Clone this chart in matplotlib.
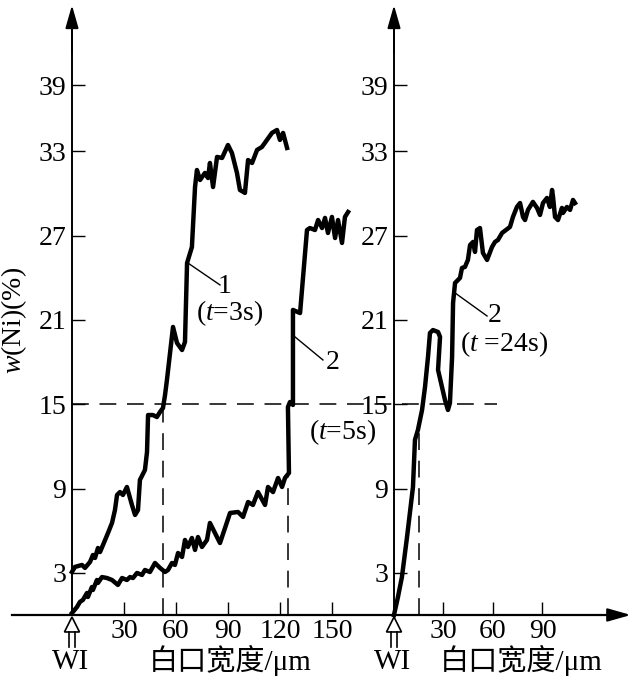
import numpy as np
import matplotlib
matplotlib.use("Agg")
import matplotlib.pyplot as plt
from matplotlib.transforms import Affine2D, ScaledTranslation
from matplotlib.patches import Polygon
from matplotlib.lines import Line2D

plt.rcParams['font.family'] = ['Liberation Serif', 'Noto Sans CJK SC', 'DejaVu Sans']
plt.rcParams['mathtext.fontset'] = 'custom'
plt.rcParams['mathtext.rm'] = 'Liberation Serif'
plt.rcParams['mathtext.it'] = 'Liberation Serif:italic'

# curve 1 (t=3s), left panel: width um, w(Ni) %
x1 = [0, 1.7, 5.8, 7.5, 10.4, 12.1, 13.3, 15.0, 16.2, 17.9, 20.8, 23.1, 24.8, 26.0,
      27.7, 29.4, 31.7, 34.6, 36.4, 38.1, 39.2, 42.1, 43.3, 43.9, 46.7, 49.0, 50.8,
      52.5, 53.7, 54.8, 58.3, 60.6, 63.5, 65.2, 66.4, 69.2, 71.0, 72.1, 73.9, 76.7,
      78.5, 79.6, 81.4, 83.7, 86.6, 90.0, 92.3, 95.2, 96.9, 99.8, 101.6, 103.9,
      106.8, 109.6, 112.5, 115.4, 118.3, 120.0, 121.8, 124.1]
y1 = [3.06, 3.42, 3.56, 3.35, 3.77, 4.27, 4.06, 4.77, 4.48, 4.98, 5.84, 6.55, 7.47,
      8.54, 8.75, 8.54, 9.11, 7.83, 7.12, 7.47, 9.61, 10.32, 11.6, 14.23, 14.23,
      14.09, 14.45, 14.73, 15.66, 16.73, 20.5, 19.36, 18.86, 19.43, 25.05, 26.19,
      30.46, 31.67, 30.96, 31.46, 31.1, 32.17, 30.46, 32.6, 32.53, 33.45, 32.88,
      31.46, 30.25, 30.04, 32.38, 32.17, 33.1, 33.31, 33.81, 34.31, 34.52, 33.81,
      34.31, 33.24]

# curve 2 (t=5s), left panel
x2 = [0, 2.9, 4.6, 6.3, 8.7, 9.2, 11.5, 12.1, 14.4, 15.0, 17.3, 20.2, 23.1, 26.5,
      28.9, 31.7, 33.5, 35.2, 37.5, 40.4, 42.1, 45.0, 47.9, 50.8, 53.7, 55.4, 57.7,
      59.4, 61.2, 63.5, 65.2, 66.9, 69.2, 71.0, 72.7, 75.0, 77.9, 79.6, 85.4, 91.2,
      95.8, 98.7, 101.6, 104.4, 107.3, 111.4, 113.1, 116.0, 118.9, 121.2, 122.9,
      125.2, 124.6, 125.8, 127.5, 127.5, 131.6, 135.6, 137.3, 140.2, 142.0, 144.3,
      146.0, 147.7, 150.0, 151.8, 153.5, 155.8, 157.5, 159.3]
y2 = [0.14, 0.57, 0.93, 1.07, 1.57, 1.28, 1.99, 1.78, 2.49, 2.28, 2.7, 2.63, 2.49,
      2.14, 2.63, 2.49, 2.7, 2.63, 2.99, 2.85, 3.2, 3.06, 3.7, 3.35, 3.06, 3.2, 3.7,
      3.56, 4.41, 4.13, 5.34, 4.84, 5.48, 4.63, 5.55, 4.84, 5.34, 6.55, 5.12, 7.26,
      7.33, 6.98, 8.04, 7.83, 8.75, 7.83, 9.11, 8.75, 9.75, 9.11, 9.75, 10.11, 14.8,
      15.16, 14.95, 21.71, 21.49, 27.4, 27.54, 27.4, 28.11, 27.54, 28.26, 27.19,
      28.33, 26.83, 28.11, 26.48, 28.33, 28.68]

# curve 2 (t=24s), right panel
x3 = [0, 2.4, 4.8, 7.9, 11.5, 12.7, 14.5, 17.0, 18.8, 20.6, 21.8, 23.6, 26.7, 27.9,
      26.7, 30.9, 32.7, 33.9, 35.2, 35.8, 37.0, 40.0, 41.2, 43.0, 44.8, 46.1, 47.9,
      49.1, 50.3, 52.1, 53.9, 56.4, 59.4, 61.2, 63.0, 65.5, 70.3, 72.1, 74.5, 76.4,
      78.2, 79.4, 81.2, 84.2, 86.7, 88.5, 90.3, 92.7, 94.5, 95.8, 96.4, 97.6, 99.4,
      101.8, 102.4, 104.8, 106.7, 108.5, 109.7]
y3 = [0, 1.28, 2.7, 5.55, 9.11, 12.46, 13.17, 14.59, 16.23, 18.36, 20.07, 20.28,
      20.14, 19.79, 17.44, 15.3, 14.59, 15.09, 18.36, 22.21, 23.63, 23.99, 24.7,
      24.77, 25.27, 26.33, 26.55, 25.84, 27.4, 27.54, 25.77, 25.27, 26.19, 26.55,
      26.69, 27.19, 27.62, 28.33, 29.04, 29.32, 28.33, 28.11, 28.83, 29.4, 28.97,
      28.47, 29.32, 29.68, 29.04, 30.25, 29.75, 28.33, 28.11, 28.97, 28.61, 29.04,
      28.83, 29.54, 29.32]

y_ticks = [3, 9, 15, 21, 27, 33, 37.7]
y_labels = ['3', '9', '15', '21', '27', '33', '39']
x_ticks_left = [30, 60, 90, 120, 150]
x_ticks_right = [30, 60, 90]
w_level = 15
w_left = [52.5, 124.6]
w_right = 15.2

W, H = 632, 683
fig = plt.figure(figsize=(W / 100, H / 100), dpi=100)
fig.patch.set_facecolor('white')

ax1 = fig.add_axes([12 / W, 61 / H, 382 / W, 618.2 / H])
ax2 = fig.add_axes([385.75 / W, 61 / H, 245.5 / W, 618.2 / H])
ax1.set_xlim(-34.6, 185.8)
ax2.set_xlim(-5, 143.8)
top = 43.5

for ax in (ax1, ax2):
    ax.set_ylim(-0.5, top)
    ax.patch.set_visible(False)
    ax.spines['top'].set_visible(False)
    ax.spines['right'].set_visible(False)
    ax.spines['left'].set_position(('data', 0))
    ax.spines['bottom'].set_position(('data', 0))
    ax.spines['left'].set_bounds(0, 42)
    ax.spines['left'].set_linewidth(1.4)
    ax.spines['bottom'].set_linewidth(1.6)
    ax.set_yticks(y_ticks)
    ax.set_yticklabels(y_labels)
    ax.tick_params(direction='in', length=9.4, width=1.0, labelsize=20)
    ax.tick_params(axis='y', pad=4)
    ax.tick_params(axis='x', pad=3)
    ax.annotate('', xy=(0, 43.4), xytext=(0, 40),
                arrowprops=dict(arrowstyle='-|>,head_length=0.7,head_width=0.2',
                                lw=1.4, color='k', mutation_scale=20,
                                shrinkA=0, shrinkB=0))

ax1.spines['bottom'].set_bounds(-34.6, 185.8)
ax2.spines['bottom'].set_bounds(0, 140)
ax2.annotate('', xy=(143.5, 0), xytext=(130, 0),
             arrowprops=dict(arrowstyle='-|>,head_length=0.7,head_width=0.2',
                             lw=1.6, color='k', mutation_scale=20,
                             shrinkA=0, shrinkB=0))
ax1.set_xticks(x_ticks_left)
ax2.set_xticks(x_ticks_right)

# curves
lw = 3.2
ax1.plot(x1, y1, color='k', lw=lw, solid_joinstyle='round', clip_on=False)
ax1.plot(x2, y2, color='k', lw=lw, solid_joinstyle='round', clip_on=False)
ax2.plot(x3, y3, color='k', lw=lw, solid_joinstyle='round', clip_on=False)

# dashed guide lines
dash = dict(color='k', lw=1.1, dashes=(11, 7))
ax1.plot([0, 245.2], [w_level, w_level], clip_on=False, **dash)
for xv in w_left:
    ax1.plot([xv, xv], [0, w_level], **dash)
ax2.plot([w_right, w_right], [0, 13], **dash)

# labels on curves
fs = 20
ax1.plot([66.9, 85.4], [25.05, 23.49], color='k', lw=1.0)
ax1.text(88.3, 23.35, '1', fontsize=fs, ha='center', va='center')
ax1.text(91.2, 21.49, '($t$=3s)', fontsize=fs, ha='center', va='center')
ax1.plot([128.7, 144.8], [19.79, 18.15], color='k', lw=1.0)
ax1.text(150.6, 17.94, '2', fontsize=fs, ha='center', va='center')
ax1.text(156.4, 13.02, '($t$=5s)', fontsize=fs, ha='center', va='center')
ax2.plot([37.0, 56.4], [22.92, 21.28], color='k', lw=1.0)
ax2.text(61.2, 21.35, '2', fontsize=fs, ha='center', va='center')
ax2.text(66.7, 19.3, '($t$ =24s)', fontsize=fs, ha='center', va='center')

# WI markers: hollow arrow with double stem, placed below each origin
for ax in (ax1, ax2):
    tr = Affine2D().scale(1, -1) + ScaledTranslation(0, 0, ax.transData)
    head = Polygon([[0, 2], [-7.5, 17], [7.5, 17]], closed=True, fc='white',
                   ec='k', lw=1.2, transform=tr, clip_on=False)
    ax.add_patch(head)
    for sx in (-2.8, 2.8):
        ax.add_line(Line2D([sx, sx], [17, 32], color='k', lw=1.2,
                           transform=tr, clip_on=False))
    ax.annotate('WI', xy=(0, 0), xytext=(-1, -47), textcoords='offset pixels',
                fontsize=21, ha='center', va='center', annotation_clip=False)

fig.text(230 / W, 1 - 660 / H, '白口宽度/μm', fontsize=21, ha='center', va='center')
fig.text(521 / W, 1 - 660 / H, '白口宽度/μm', fontsize=21, ha='center', va='center')
fig.text(14 / W, 1 - 320 / H, '$w$(Ni)(%)', fontsize=20, rotation=90,
         ha='center', va='center')

fig.savefig('out.png', dpi=100)
